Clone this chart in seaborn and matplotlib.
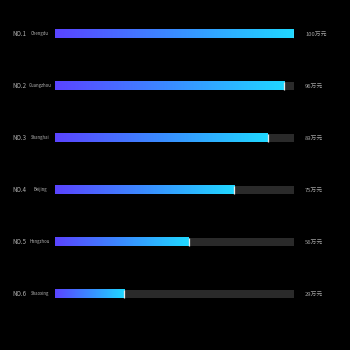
import numpy as np
import pandas as pd
import seaborn as sns
import matplotlib.pyplot as plt
from matplotlib.colors import LinearSegmentedColormap

ranks = ['NO.1', 'NO.2', 'NO.3', 'NO.4', 'NO.5', 'NO.6']
cities = ['Chengdu', 'Guangzhou', 'Shanghai', 'Beijing', 'Hangzhou', 'Shaoxing']
values = [100, 96, 89, 75, 56, 29]
max_value = 100

df = pd.DataFrame({'city': cities, 'value': values, 'track': [max_value] * len(cities)})

sns.set_theme(style='dark')
plt.rcParams['font.family'] = ['Noto Sans CJK SC', 'DejaVu Sans']

fig = plt.figure(figsize=(3.5, 3.5), dpi=100, facecolor='black')
ax = fig.add_axes([55 / 350, 30 / 350, 239 / 350, 312 / 350])
ax.set_facecolor('black')

# background track
sns.barplot(data=df, x='track', y='city', orient='h', color='#2a2a2a',
            width=0.16, saturation=1, linewidth=0, ax=ax)
n_track = len(ax.patches)
sns.barplot(data=df, x='value', y='city', orient='h', color='#5a46ff',
            width=0.16, saturation=1, linewidth=0, ax=ax)

cmap = LinearSegmentedColormap.from_list('grad', ['#5a44ff', '#3a8cff', '#20d8ff'])
grad = np.linspace(0, 1, 256).reshape(1, -1)
for p in ax.patches[n_track:]:
    x0, y0 = p.get_x(), p.get_y()
    w, h = p.get_width(), p.get_height()
    ax.imshow(grad, extent=[x0, x0 + w, y0 + h, y0], aspect='auto', cmap=cmap, zorder=3)
    ax.plot([x0 + w, x0 + w], [y0, y0 + h], color='#e8e8e8', lw=0.9, zorder=4,
            solid_capstyle='butt')
    p.set_visible(False)

ax.set_xlim(0, max_value)
ax.set_ylim(len(cities) - 0.5, -0.5)
ax.axis('off')

for i, (r, c, v) in enumerate(zip(ranks, cities, values)):
    ax.text(-43 / 239 * max_value, i, r, color='#b0b0b0', fontsize=4.4,
            va='center', ha='left')
    ax.text(-15 / 239 * max_value, i, c, color='#b0b0b0', fontsize=3.1,
            va='center', ha='center')
    ax.text(max_value + 11 / 239 * max_value, i, f'{v}万元', color='#a0a0a0',
            fontsize=4.2, va='center', ha='left')

plt.savefig('out.png', dpi=100, facecolor='black')
